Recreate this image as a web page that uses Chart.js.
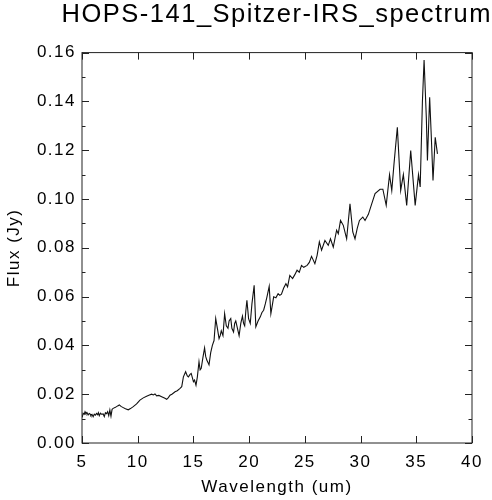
<!DOCTYPE html>
<html>
<head>
<meta charset="utf-8">
<script src="https://cdn.jsdelivr.net/npm/chart.js@4/dist/chart.umd.min.js"></script>
<style>
  html, body { margin: 0; padding: 0; background: #fff; }
  #wrap { width: 492px; height: 500px; }
</style>
</head>
<body>
<div id="wrap"><canvas id="spectrum"></canvas></div>
<script>
const wavelength = [
  5.02, 5.1, 5.2, 5.27, 5.35, 5.45, 5.55, 5.65, 5.72, 5.8, 5.9, 6.0, 6.1, 6.2,
  6.3, 6.4, 6.47, 6.55, 6.65, 6.75, 6.9, 7.0, 7.1, 7.2, 7.3, 7.4, 7.5, 7.6, 7.7,
  7.8, 8.0, 8.2, 8.35, 8.5, 8.7, 8.9, 9.15, 9.35, 9.6, 9.9, 10.2, 10.5, 10.8,
  11.0, 11.25, 11.4, 11.55, 11.7, 11.9, 12.15, 12.4, 12.6, 12.75, 12.9, 13.1,
  13.35, 13.55, 13.8, 13.95, 14.1, 14.3, 14.45, 14.55, 14.7, 14.8, 15.0, 15.1,
  15.23, 15.35, 15.5, 15.6, 15.7, 15.85, 16.0, 16.1, 16.2, 16.4, 16.55, 16.7,
  16.85, 17.0, 17.15, 17.3, 17.4, 17.5, 17.65, 17.8, 17.95, 18.1, 18.2, 18.35,
  18.45, 18.6, 18.7, 18.8, 18.95, 19.1, 19.25, 19.4, 19.5, 19.6, 19.7, 19.8,
  19.95, 20.1, 20.25, 20.45, 20.6, 20.8, 21.0, 21.15, 21.3, 21.45, 21.6, 21.8,
  21.95, 22.1, 22.2, 22.4, 22.6, 22.75, 22.9, 23.1, 23.3, 23.45, 23.65, 23.9,
  24.1, 24.3, 24.5, 24.7, 24.9, 25.2, 25.4, 25.6, 25.9, 26.1, 26.3, 26.5, 26.8,
  27.1, 27.3, 27.55, 27.85, 28.0, 28.2, 28.45, 28.75, 29.05, 29.3, 29.5, 29.7,
  29.9, 30.2, 30.4, 30.7, 31.0, 31.3, 31.75, 32.0, 32.3, 32.6, 32.8, 33.0, 33.3,
  33.6, 33.84, 34.14, 34.5, 34.9, 35.2, 35.35, 35.55, 35.7, 35.9, 36.0, 36.2,
  36.35, 36.5, 36.7, 36.9
];

const flux = [
  0.0105, 0.0122, 0.0118, 0.0128, 0.0120, 0.0124, 0.0115, 0.0121, 0.0119, 0.0112,
  0.0117, 0.0108, 0.0118, 0.0114, 0.0121, 0.0116, 0.0124, 0.0112, 0.0122, 0.0118,
  0.0119, 0.0108, 0.0124, 0.0120, 0.0128, 0.0112, 0.0135, 0.0110, 0.0138, 0.0142,
  0.0146, 0.0152, 0.0156, 0.0150, 0.0145, 0.0140, 0.0136, 0.0141, 0.0149, 0.0160,
  0.0176, 0.0185, 0.0192, 0.0196, 0.0200, 0.0197, 0.0201, 0.0193, 0.0195, 0.0190,
  0.0184, 0.0179, 0.0186, 0.0196, 0.0201, 0.0210, 0.0214, 0.0224, 0.0231, 0.0271,
  0.0292, 0.0275, 0.0271, 0.0281, 0.0285, 0.0251, 0.0258, 0.0237, 0.0270, 0.0333,
  0.0300, 0.0306, 0.0350, 0.0390, 0.0355, 0.0340, 0.0320, 0.0370, 0.0400, 0.0420,
  0.0510, 0.0470, 0.0428, 0.0440, 0.0460, 0.0440, 0.0530, 0.0480, 0.0470, 0.0500,
  0.0510, 0.0470, 0.0455, 0.0490, 0.0500, 0.0470, 0.0440, 0.0490, 0.0520, 0.0490,
  0.0480, 0.0540, 0.0585, 0.0510, 0.0490, 0.0570, 0.0646, 0.0476, 0.0500, 0.0517,
  0.0535, 0.0544, 0.0570, 0.0599, 0.0642, 0.0530, 0.0570, 0.0599, 0.0595, 0.0612,
  0.0605, 0.0610, 0.0635, 0.0653, 0.0640, 0.0687, 0.0674, 0.0690, 0.0708, 0.0700,
  0.0728, 0.0720, 0.0728, 0.0740, 0.0765, 0.0735, 0.0769, 0.0824, 0.0790, 0.0830,
  0.0810, 0.0837, 0.0803, 0.0872, 0.0858, 0.0912, 0.0892, 0.0837, 0.0980, 0.0865,
  0.0837, 0.0880, 0.0912, 0.0926, 0.0912, 0.0937, 0.0980, 0.1022, 0.1040, 0.1040,
  0.0974, 0.1100, 0.1035, 0.1144, 0.1294, 0.1035, 0.1100, 0.0974, 0.1199, 0.0974,
  0.1100, 0.1049, 0.1400, 0.1570, 0.1335, 0.1158, 0.1417, 0.1253, 0.1076, 0.1253,
  0.1185
];

const xTicks = [5, 10, 15, 20, 25, 30, 35, 40];
const yTicks = [0, 0.02, 0.04, 0.06, 0.08, 0.10, 0.12, 0.14, 0.16];
const yMinorTicks = [0.01, 0.03, 0.05, 0.07, 0.09, 0.11, 0.13, 0.15];

const FONT = "'Liberation Sans', Arial, Helvetica, sans-serif";

// The original's Helvetica runs wider than Liberation Sans; space the
// letters out a little. Setting canvas width resets ctx state, so reapply.
const spacingPlugin = {
  id: 'spacing',
  afterInit(chart) { chart.ctx.letterSpacing = '1.5px'; },
  beforeUpdate(chart) { chart.ctx.letterSpacing = '1.5px'; },
  beforeDraw(chart) { chart.ctx.letterSpacing = '1.5px'; },
};

// Frame round the plot with inward ticks on all four sides, IDL style.
const framePlugin = {
  id: 'frame',
  afterDraw(chart) {
    const { ctx, chartArea: a, scales } = chart;
    const xs = scales.x, ys = scales.y;
    ctx.save();
    ctx.strokeStyle = '#222';
    ctx.lineWidth = 1;
    ctx.strokeRect(a.left, a.top, a.right - a.left, a.bottom - a.top);
    ctx.beginPath();
    xTicks.forEach((v) => {
      const px = Math.round(xs.getPixelForValue(v)) + 0.5;
      ctx.moveTo(px, a.bottom); ctx.lineTo(px, a.bottom - 7);
      ctx.moveTo(px, a.top); ctx.lineTo(px, a.top + 7);
    });
    yTicks.forEach((v) => {
      const py = Math.round(ys.getPixelForValue(v)) + 0.5;
      ctx.moveTo(a.left, py); ctx.lineTo(a.left + 7, py);
      ctx.moveTo(a.right, py); ctx.lineTo(a.right - 7, py);
    });
    yMinorTicks.forEach((v) => {
      const py = Math.round(ys.getPixelForValue(v)) + 0.5;
      ctx.moveTo(a.left, py); ctx.lineTo(a.left + 3.5, py);
      ctx.moveTo(a.right, py); ctx.lineTo(a.right - 3.5, py);
    });
    ctx.stroke();
    ctx.restore();
  },
};

new Chart(document.getElementById('spectrum'), {
  type: 'line',
  data: {
    datasets: [{
      data: wavelength.map((w, i) => ({ x: w, y: flux[i] })),
      borderColor: '#111',
      borderWidth: 1.1,
      pointRadius: 0,
      tension: 0,
      fill: false,
    }],
  },
  options: {
    responsive: true,
    maintainAspectRatio: false,
    animation: false,
    devicePixelRatio: 1,
    layout: { padding: 0 },
    plugins: {
      legend: { display: false },
      tooltip: { enabled: false },
      title: {
        display: true,
        align: 'end',
        text: 'HOPS-141_Spitzer-IRS_spectrum',
        color: '#000',
        font: { family: FONT, size: 25.5, weight: 'normal' },
        padding: { top: 0, bottom: 22 },
      },
    },
    scales: {
      x: {
        type: 'linear',
        min: 5,
        max: 40,
        afterFit: (s) => { s.height = 57; },
        afterBuildTicks: (s) => { s.ticks = xTicks.map((v) => ({ value: v })); },
        grid: { display: false, drawTicks: false },
        border: { display: false },
        ticks: {
          color: '#000',
          padding: 9,
          maxRotation: 0,
          font: { family: FONT, size: 17 },
        },
        title: {
          display: true,
          text: 'Wavelength (um)',
          color: '#000',
          font: { family: FONT, size: 17 },
          padding: { top: 0, bottom: 2 },
        },
      },
      y: {
        type: 'linear',
        min: 0,
        max: 0.16,
        afterFit: (s) => { s.width = 82; },
        afterBuildTicks: (s) => { s.ticks = yTicks.map((v) => ({ value: v })); },
        grid: { display: false, drawTicks: false },
        border: { display: false },
        ticks: {
          color: '#000',
          padding: 6,
          font: { family: FONT, size: 17 },
          callback: (v) => v.toFixed(2),
        },
        title: {
          display: true,
          text: 'Flux (Jy)',
          color: '#000',
          font: { family: FONT, size: 17 },
          padding: { top: 4, bottom: 0 },
        },
      },
      // Empty right-hand strip so the plot stops short of the canvas edge.
      yRight: {
        type: 'linear',
        position: 'right',
        min: 0,
        max: 1,
        afterFit: (s) => { s.width = 20; },
        grid: { display: false, drawTicks: false },
        border: { display: false },
        ticks: { display: false },
      },
    },
  },
  plugins: [spacingPlugin, framePlugin],
});
</script>
</body>
</html>
